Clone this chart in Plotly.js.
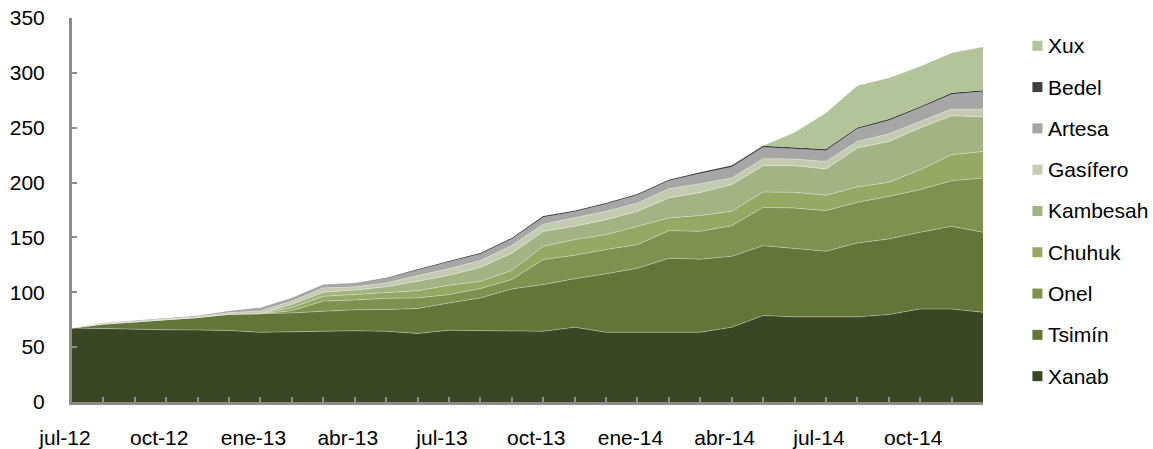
<!DOCTYPE html>
<html>
<head>
<meta charset="utf-8">
<script src="https://cdn.plot.ly/plotly-3.0.1.min.js"></script>
<style>
  html, body { margin: 0; padding: 0; background: #ffffff; }
  #chart { width: 1153px; height: 449px; }
</style>
</head>
<body>
<div id="chart"></div>
<script>
// Months (x categories)
const months = ["jul-12","ago-12","sep-12","oct-12","nov-12","dic-12","ene-13","feb-13","mar-13","abr-13","may-13","jun-13",
                "jul-13","ago-13","sep-13","oct-13","nov-13","dic-13","ene-14","feb-14","mar-14","abr-14","may-14","jun-14",
                "jul-14","ago-14","sep-14","oct-14","nov-14","dic-14"];
// Labelled ticks
const tickLabels = ["jul-12","oct-12","ene-13","abr-13","jul-13","oct-13","ene-14","abr-14","jul-14","oct-14"];

// Series values (stacked, bottom to top)
const xanab    = [67.5,66.8,66.0,65.8,65.7,65.2,63.5,64.0,65.0,65.0,64.4,62.5,65.4,65.1,64.5,64.5,68.1,63.6,63.6,63.6,63.6,68.1,78.8,77.6,77.3,77.6,79.7,84.8,84.8,81.8];
const tsimin   = [0,4.2,7.0,9.2,11.3,14.8,17.0,17.2,17.7,19.0,19.8,22.7,24.9,29.8,38.6,42.5,44.3,53.2,58.4,67.4,66.6,64.7,63.7,62.5,60.1,67.4,68.9,69.9,75.3,72.9];
const onel     = [0,0,0,0,0,0,0,2.0,9.3,9.0,10.3,9.7,7.6,8.5,8.5,22.8,21.3,22.1,21.4,25.2,25.4,27.9,34.9,36.7,37.0,37.0,38.8,38.8,41.6,49.5];
const chuhuk   = [0,0,0,0,0,0,0,2.8,4.4,5.0,5.0,6.6,8.5,6.6,8.4,12.1,14.3,13.7,16.7,11.5,14.4,13.1,14.0,14.3,14.0,14.0,12.8,18.2,23.7,24.2];
const kambesah = [0,0,0,0,0,0,0,3.0,3.6,4.0,5.5,8.5,9.1,12.5,15.6,13.6,12.1,13.6,13.7,18.3,21.0,24.3,24.0,24.3,24.0,35.5,37.3,38.0,35.5,31.3];
const gasifero = [0,0.5,0.7,0.8,0.8,1.5,2.5,3.0,4.0,3.0,3.5,5.2,6.0,6.5,7.0,6.5,7.6,7.6,7.6,8.4,8.0,6.1,6.4,6.1,6.9,6.0,7.0,6.1,6.1,7.3];
const artesa   = [0,0.5,0.6,0.7,0.7,1.5,3.0,3.0,3.0,3.5,4.0,5.0,5.8,6.0,6.0,6.5,5.7,6.6,7.2,7.2,9.3,10.1,10.5,9.6,10.0,11.5,12.1,12.3,13.5,15.9];
const bedel    = [0,0,0,0,0,0,0,0,0,0,0.5,0.8,0.9,0.9,0.9,1.0,1.0,1.0,1.0,1.0,1.2,1.2,1.3,1.3,1.3,1.3,1.3,1.3,1.3,1.3];
const xux      = [0,0,0,0,0,0,0,0,0,0,0,0,0,0,0,0,0,0,0,0,0,0,0,13.3,32.8,38.0,37.3,36.5,36.2,39.3];

const seriesNames  = ["Xanab","Tsimín","Onel","Chuhuk","Kambesah","Gasífero","Artesa","Bedel","Xux"];
const seriesValues = [xanab, tsimin, onel, chuhuk, kambesah, gasifero, artesa, bedel, xux];
const seriesColors = ["#3b4724","#64753a","#7e9150","#97a865","#a3b384","#c3ccb0","#a6a6a6","#404040","#b3c49a"];

const FONT = "Liberation Sans, Arial, sans-serif";
const FS = 21;

const traces = seriesNames.map((name, k) => {
  const thinLine = (k <= 5);
  return {
    type: "scatter",
    mode: "lines",
    name: name,
    x: months,
    y: seriesValues[k],
    stackgroup: "one",
    fillcolor: seriesColors[k],
    line: thinLine ? {width: 0.8, color: "rgba(255,255,255,0.4)"} : {width: 0, color: seriesColors[k]},
    showlegend: false,
    hoverinfo: "x+y+name"
  };
});

// Geometry of plot area
const L = 72, T = 18.2, W = 910.6, H = 384.3;
const shapes = [];
const annotations = [];
const legendTop = 46, legendStep = 41.33;
const legendOrder = seriesNames.map((n, k) => k).reverse();
legendOrder.forEach((k, j) => {
  const cy = legendTop + j * legendStep;
  const px2x = p => (p - L) / W;
  const py2y = p => (T + H - p) / H;
  shapes.push({
    type: "rect", xref: "paper", yref: "paper",
    x0: px2x(1032), x1: px2x(1042), y0: py2y(cy + 5), y1: py2y(cy - 5),
    fillcolor: seriesColors[k], line: {width: 0}
  });
  annotations.push({
    xref: "paper", yref: "paper", x: px2x(1046), y: py2y(cy),
    xanchor: "left", yanchor: "middle", showarrow: false,
    text: seriesNames[k], font: {family: FONT, size: FS, color: "#000"}
  });
});

const tickText = months.map(m => tickLabels.includes(m) ? m : "");

const layout = {
  width: 1153, height: 449,
  margin: {l: L, r: 1153 - L - W, t: T, b: 449 - T - H, pad: 0},
  paper_bgcolor: "#ffffff",
  plot_bgcolor: "#ffffff",
  showlegend: false,
  font: {family: FONT, size: FS, color: "#000"},
  xaxis: {
    type: "category",
    range: [0, months.length - 1],
    tickmode: "array",
    tickvals: months,
    ticktext: tickText,
    ticks: "inside", ticklen: 5, tickwidth: 2, tickcolor: "#8c8c8c",
    showline: true, linecolor: "#8c8c8c", linewidth: 3,
    showgrid: false, zeroline: false,
    tickfont: {family: FONT, size: FS, color: "#000"},
    ticklabelstandoff: 15,
    ticklabelshift: -7,
    fixedrange: true
  },
  yaxis: {
    range: [0, 350],
    tickmode: "linear", tick0: 0, dtick: 50,
    ticks: "inside", ticklen: 5, tickwidth: 2, tickcolor: "#8c8c8c",
    showline: true, linecolor: "#8c8c8c", linewidth: 3,
    showgrid: false, zeroline: false,
    tickfont: {family: FONT, size: FS, color: "#000"},
    ticklabelstandoff: 20,
    fixedrange: true
  },
  shapes: shapes,
  annotations: annotations
};

Plotly.newPlot("chart", traces, layout, {displayModeBar: false, staticPlot: true});
</script>
</body>
</html>
